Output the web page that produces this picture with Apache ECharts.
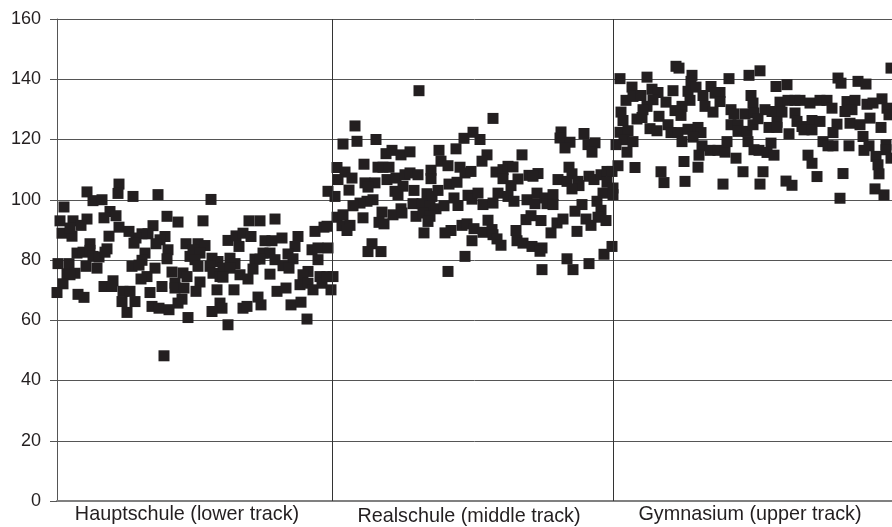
<!DOCTYPE html>
<html><head><meta charset="utf-8"><style>html,body{margin:0;padding:0;background:#fff}#c{width:892px;height:527px}</style>
<script src="https://cdn.jsdelivr.net/npm/echarts@6/dist/echarts.min.js"></script></head>
<body><div id="c"></div>
<script>
const trackNames = ['Hauptschule (lower track)','Realschule (middle track)','Gymnasium (upper track)'];
const trackCentres = [130, 412, 693];
const trackBoundaries = [275, 556];
const yTicks = [0,20,40,60,80,100,120,140,160];
const hauptschule = [[30,102.6],[62,105.2],[61,102.1],[76,101.1],[101,101.7],[36,99.7],[45,100],[7,97.6],[53,96.1],[47,94],[59,94.7],[110,94.5],[121,92.6],[3,93],[16,93],[30,93.6],[24,91.5],[62,90.9],[5,88.9],[15,87.9],[13,90.6],[72,89.5],[96,91.4],[91,88.7],[85,88.7],[52,87.9],[79,87.3],[77,85.6],[108,87.8],[103,86.7],[99,85.4],[33,85.4],[50,83.7],[20,82.3],[26,82.6],[33,83.2],[36,81.2],[42,81],[48,82.6],[88,82.3],[85,79.9],[111,83.4],[110,80.4],[129,85.4],[133,81.2],[1,78.8],[12,78.8],[29,77.9],[40,77.3],[75,77.9],[82,78.3],[98,77.3],[10,75.4],[18,75.6],[13,75.1],[90,74.5],[84,73.7],[115,76],[126,75.7],[130,74.5],[56,73.1],[47,71.2],[55,71.2],[6,72.1],[105,71.2],[0,69.2],[21,68.6],[27,67.6],[93,69.2],[66,69.6],[73,69.6],[118,72.3],[118,70.7],[127,70.7],[65,66.2],[78,66.2],[70,62.6],[125,67],[121,65.7],[95,64.6],[102,64],[112,63.5],[131,60.9],[107,48.2],
[154,100.1],[146,93],[192,93],[203,93],[218,93.6],[258,89.5],[267,90.9],[171,86.5],[179,88],[186,88.9],[194,87.8],[182,84.5],[141,85.4],[148,84.8],[136,83.4],[143,82.3],[208,86.4],[215,86.4],[225,87.3],[241,87.8],[238,84.5],[255,83.4],[261,84],[271,84],[206,82.3],[213,82.3],[198,80.3],[203,80.3],[218,80.1],[231,82],[236,80.4],[261,80.1],[155,80.6],[161,79.5],[173,80.6],[178,78.8],[138,80.1],[141,77.9],[153,77.9],[196,77],[226,78.1],[232,77.3],[166,77.3],[173,77.3],[156,75.6],[163,74.5],[166,74.3],[183,75.1],[191,73.7],[213,75.3],[251,76.2],[246,75.1],[263,74.5],[276,74.5],[243,71.8],[251,72.3],[256,70.1],[265,72.3],[274,70.1],[143,72.7],[139,69.6],[160,70.1],[177,70.1],[220,69.6],[229,70.7],[201,67.7],[204,65.1],[163,65.7],[165,64],[155,62.9],[186,64],[190,64.6],[234,65.1],[244,66],[250,60.4],[171,58.5],[270,91.2],[270,74.5],[271,102.8]];
const realschule = [[362,136.2],[298,124.5],[286,118.5],[300,119.4],[319,120],[329,115.3],[335,116.4],[344,114.9],[353,115.9],[382,116.4],[399,116.9],[407,120.4],[416,122.4],[307,111.8],[280,110.7],[288,109.2],[321,110.8],[326,110.8],[332,110.8],[384,112.8],[391,111.3],[403,110.8],[408,108.9],[414,109.4],[295,107.2],[281,106.7],[374,109.8],[374,107],[330,106.7],[339,107.2],[348,108.3],[353,108.9],[361,108.3],[308,105.6],[318,105.6],[311,104.2],[392,105.2],[400,105.8],[292,103.2],[278,101.1],[338,102.8],[346,104.5],[341,101.7],[357,103.1],[370,102],[381,103.1],[375,101.1],[411,101.5],[415,100.2],[397,100.6],[316,100],[310,99.5],[303,98.9],[296,98],[356,98.7],[365,98.7],[373,97.8],[379,97],[387,98],[401,98.1],[344,97],[325,95.9],[336,95],[345,95.6],[359,94.5],[366,95.6],[373,94.5],[371,92.8],[280,94.2],[286,95],[306,94],[322,92.5],[327,92],[285,91.4],[293,91.5],[290,89.8],[405,91.5],[394,89.8],[388,89],[410,92],[367,89],[417,90.4],[415,86.4],[315,85.4],[311,82.8],[324,82.8],[408,81.2],[391,76.2],
[436,127],[423,120],[465,114.9],[430,114.9],[425,112.8],[504,122.5],[503,120.5],[513,119.1],[508,117.2],[527,122],[531,118.3],[538,118.9],[535,115.8],[439,109.2],[446,110],[451,111.1],[456,110.9],[446,107],[461,106.9],[472,108.1],[481,108.7],[476,107.8],[454,104.7],[501,106.7],[512,110.8],[515,108.6],[510,106.1],[521,106.1],[522,104.7],[515,103.6],[532,107.8],[537,106.7],[544,108.3],[550,109.4],[555,109.4],[550,105.8],[556,103.9],[546,102.2],[556,101.7],[421,102.2],[426,98.4],[436,98.9],[441,102.2],[451,101.1],[457,99.5],[470,100],[480,102.2],[478,98.7],[488,100.6],[496,101.7],[490,98.7],[496,98.4],[540,99.5],[525,98.4],[518,96.2],[544,96.5],[541,94.2],[549,93.1],[529,93.6],[534,91.5],[431,93.2],[426,89.2],[435,90.1],[436,88.4],[440,87],[444,84.9],[459,89.8],[460,86.4],[466,85.6],[475,84.5],[485,84],[483,82.9],[469,93.4],[474,94.7],[484,93.1],[494,89],[500,92.3],[506,93.6],[520,89.5],[510,80.4],[516,76.8],[532,78.8],[547,81.9],[555,84.5],[485,76.8]];
const gymnasium = [[619,144.3],[622,143.7],[635,141.3],[563,140.2],[590,140.7],[672,140.2],[692,141.3],[634,139.3],[575,137.4],[595,136.7],[616,136.2],[601,135.6],[631,136],[639,137.4],[654,137.6],[663,135.6],[569,133],[576,134.3],[584,134.6],[596,133.2],[590,131],[586,129.9],[609,132.4],[633,133],[646,134.6],[658,135.4],[663,132.6],[648,131],[625,131],[618,129.6],[624,128],[656,129.1],[674,129.9],[677,128.5],[688,128.5],[694,134.6],[696,132.1],[697,128.8],[564,129.1],[566,126.3],[580,126.8],[585,127.3],[602,127.7],[563,122.4],[571,122.9],[567,119.9],[576,119.3],[559,118.3],[593,123.6],[600,122.9],[611,124.9],[614,122.3],[621,122.3],[631,123.4],[641,124],[644,122.3],[636,120.8],[625,119.3],[645,117.9],[642,114.8],[653,116.4],[661,116.4],[668,115.8],[670,119.3],[674,124.9],[681,124.9],[681,122.7],[690,122.7],[691,119.3],[696,124.9],[570,115.8],[679,113.8],[561,111.3],[578,110.7],[627,112.7],[641,110.8],[604,109.3],[607,105.7],[628,106.1],[666,105.2],[686,109.3],[697,116.6],
[703,142.8],[719,137.6],[730,138.2],[781,140.4],[784,138.7],[801,139.3],[809,138.4],[834,143.7],[723,132.4],[731,133],[738,133],[743,133],[753,132.1],[763,133],[770,133],[775,130.4],[790,132.6],[798,133],[795,129.9],[788,129.3],[810,131.7],[816,132.1],[825,133.5],[830,130.4],[832,128.2],[708,129.9],[715,129.3],[725,129.1],[701,126.9],[720,125.7],[712,124],[720,124],[738,128.8],[740,126],[755,126.3],[763,126],[745,124.3],[747,123.2],[755,123.2],[780,125.1],[776,122.3],[793,125.4],[803,124.9],[813,127.1],[824,124],[732,121.9],[714,118.8],[766,119.3],[771,117.9],[776,117.9],[792,117.9],[806,121],[812,117.9],[807,116.4],[829,118.2],[829,116.6],[702,116.4],[710,115.7],[717,114.8],[751,114.8],[755,112.1],[819,114.4],[821,111.6],[822,108.6],[834,113.8],[706,109.3],[703,105.2],[729,106.2],[735,104.8],[760,107.7],[786,108.7],[818,103.6],[827,101.6],[783,100.5]];

const ink = '#231f20';
const sc = (name, data) => ({type:'scatter', name, data, symbol:'rect', symbolSize:11, clip:false, itemStyle:{color:ink, opacity:1}, silent:true, animation:false});
const chart = echarts.init(document.getElementById('c'), null, {renderer:'canvas'});
chart.setOption({
  animation:false,
  backgroundColor:'#fff',
  grid:{left:57, right:0, top:19, bottom:26},
  textStyle:{fontFamily:'"Liberation Sans", Arial, sans-serif'},
  xAxis:{type:'value', min:0, max:835, splitLine:{show:false},
    axisLine:{show:true, onZero:false, lineStyle:{color:'#808080', width:2}},
    axisTick:{show:false},
    axisLabel:{show:true, customValues:trackCentres, margin:4, color:'#231f20', fontSize:19.8, hideOverlap:false, showMinLabel:true, showMaxLabel:true,
      formatter:(v)=>{const i=trackCentres.indexOf(v); return i===1?'{low|'+trackNames[i]+'}':'{n|'+trackNames[i]+'}';},
      rich:{n:{fontSize:19.8,color:'#231f20',padding:[0,0,2,0]},low:{fontSize:19.8,color:'#231f20',padding:[2,0,0,0]}}}},
  yAxis:{type:'value', min:0, max:160, interval:20,
    axisLine:{show:true, onZero:false, lineStyle:{color:'#555', width:1}},
    axisTick:{show:true, inside:false, length:7, lineStyle:{color:'#555'}},
    axisLabel:{margin:16, color:'#231f20', fontSize:18, formatter:(v)=>yTicks.includes(v)?String(v):''},
    splitLine:{show:true, lineStyle:{color:'#555', width:1}}},
  series:[
    sc(trackNames[0], hauptschule),
    sc(trackNames[1], realschule),
    Object.assign(sc(trackNames[2], gymnasium), {
      markLine:{silent:true, symbol:'none', animation:false, label:{show:false},
        lineStyle:{color:'#333', width:1, type:'solid', opacity:1},
        data:trackBoundaries.map(x=>({xAxis:x}))}})
  ]
});
</script></body></html>
